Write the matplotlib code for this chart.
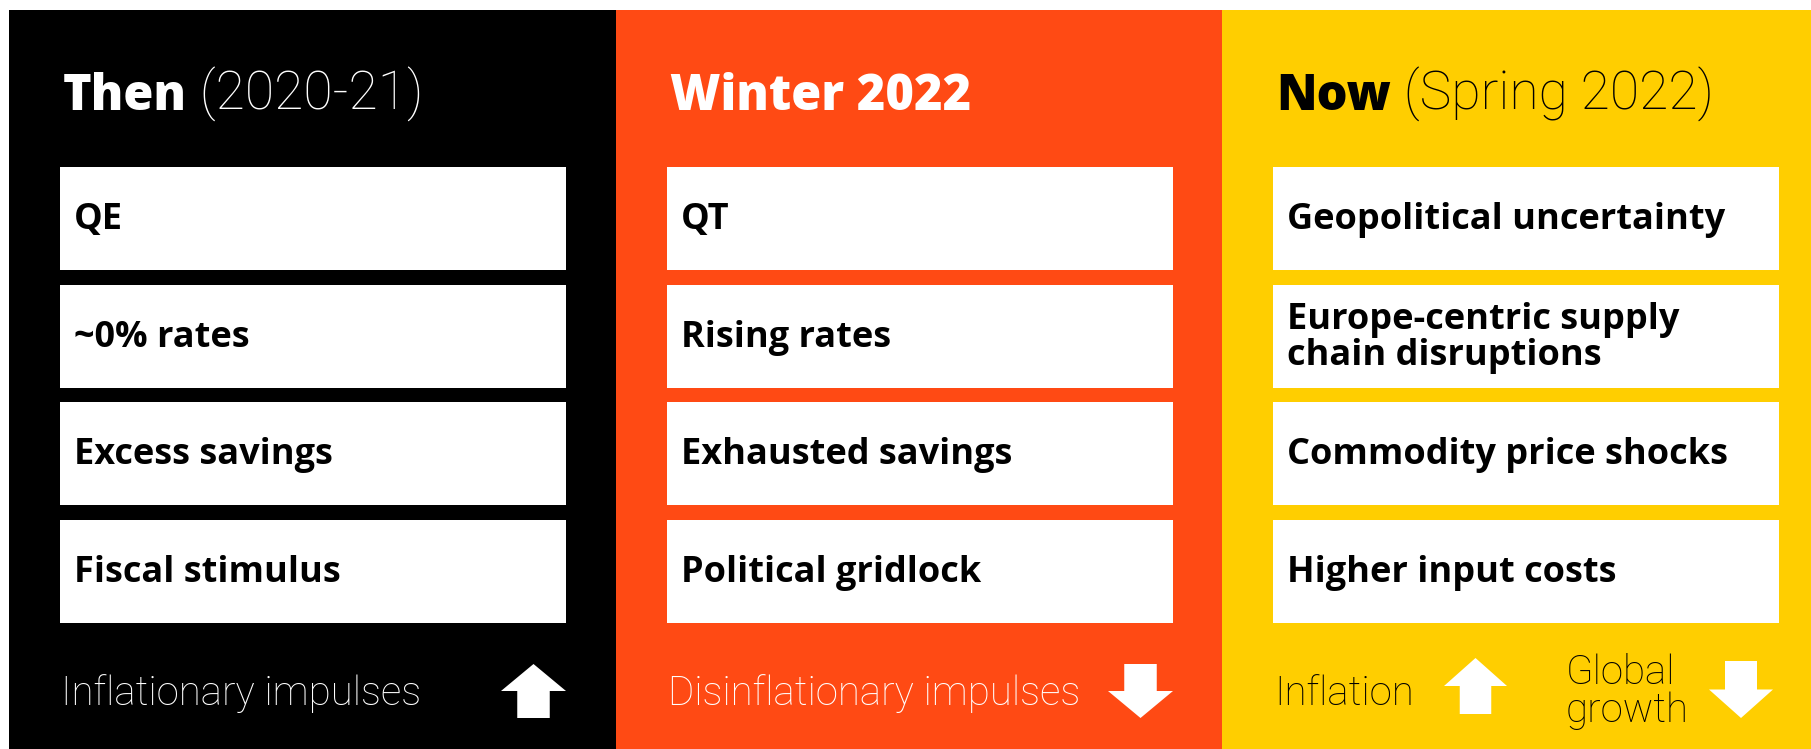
import matplotlib.pyplot as plt
from matplotlib.patches import Rectangle, Polygon

# Column content
titles_bold = ["Then", "Winter 2022", "Now"]
titles_rest = [" (2020-21)", "", " (Spring 2022)"]
panel_colors = ["#000000", "#FF4A14", "#FFCE00"]
title_colors = ["white", "white", "black"]
items = [
    ["QE", "~0% rates", "Excess savings", "Fiscal stimulus"],
    ["QT", "Rising rates", "Exhausted savings", "Political gridlock"],
    ["Geopolitical uncertainty", "Europe-centric supply\nchain disruptions",
     "Commodity price shocks", "Higher input costs"],
]
# bottom labels: (text, arrow direction) per column
footers = [
    [("Inflationary impulses", "up")],
    [("Disinflationary impulses", "down")],
    [("Inflation", "up"), ("Global\ngrowth", "down")],
]

W, H = 1811, 749
panel_x = [9, 616, 1222, W]
top = 10

fig = plt.figure(figsize=(W / 100, H / 100), dpi=100)
ax = fig.add_axes([0, 0, 1, 1])
ax.set_xlim(0, W)
ax.set_ylim(H, 0)
ax.axis("off")

BOLD = "Open Sans"
LIGHT = "Roboto"


def block_arrow(x0, x1, y0, y1, direction):
    w = x1 - x0
    xm = (x0 + x1) / 2
    sw = w * 0.25
    if direction == "up":
        yh = y0 + (y1 - y0) * 0.5
        pts = [(xm, y0), (x1, yh), (xm + sw, yh), (xm + sw, y1),
               (xm - sw, y1), (xm - sw, yh), (x0, yh)]
    else:
        yh = y1 - (y1 - y0) * 0.5
        pts = [(xm, y1), (x1, yh), (xm + sw, yh), (xm + sw, y0),
               (xm - sw, y0), (xm - sw, yh), (x0, yh)]
    ax.add_patch(Polygon(pts, closed=True, color="white", lw=0))


renderer = fig.canvas.get_renderer()

for i in range(3):
    x0, x1 = panel_x[i], panel_x[i + 1]
    ax.add_patch(Rectangle((x0, top), x1 - x0, H - top, color=panel_colors[i], lw=0))

    # title
    t = ax.text(x0 + 54, 110, titles_bold[i], fontsize=35, fontweight="heavy",
                family=BOLD, color=title_colors[i], va="baseline")
    if titles_rest[i]:
        bb = t.get_window_extent(renderer)
        ax.text(bb.x1, 110, titles_rest[i], fontsize=38.5, fontweight="light",
                family=LIGHT, color=title_colors[i], va="baseline")

    # boxes
    bx = x0 + 51
    for j, label in enumerate(items[i]):
        by = 167 + j * 117.7
        ax.add_patch(Rectangle((bx, by), 506, 103, color="white", lw=0))
        ax.text(bx + 14, by + 53, label, fontsize=26, fontweight="bold",
                family=BOLD, color="black", va="center", linespacing=1.0)

    # footer
    fc = title_colors[i]
    if len(footers[i]) == 1:
        txt, d = footers[i][0]
        ax.text(x0 + 52, 694, txt, fontsize=29, fontweight="light",
                family=LIGHT, color=fc, va="center")
        block_arrow(bx + 441, bx + 506, 664, 718, d)
    else:
        (t1, d1), (t2, d2) = footers[i]
        ax.text(x0 + 52, 694, t1, fontsize=29, fontweight="light",
                family=LIGHT, color=fc, va="center")
        block_arrow(1444, 1507, 658, 714, d1)
        ax.text(1566, 692, t2, fontsize=29, fontweight="light",
                family=LIGHT, color=fc, va="center", linespacing=1.0)
        block_arrow(1709, 1773, 661, 718, d2)

fig.savefig("out.png", dpi=100, facecolor="white")
